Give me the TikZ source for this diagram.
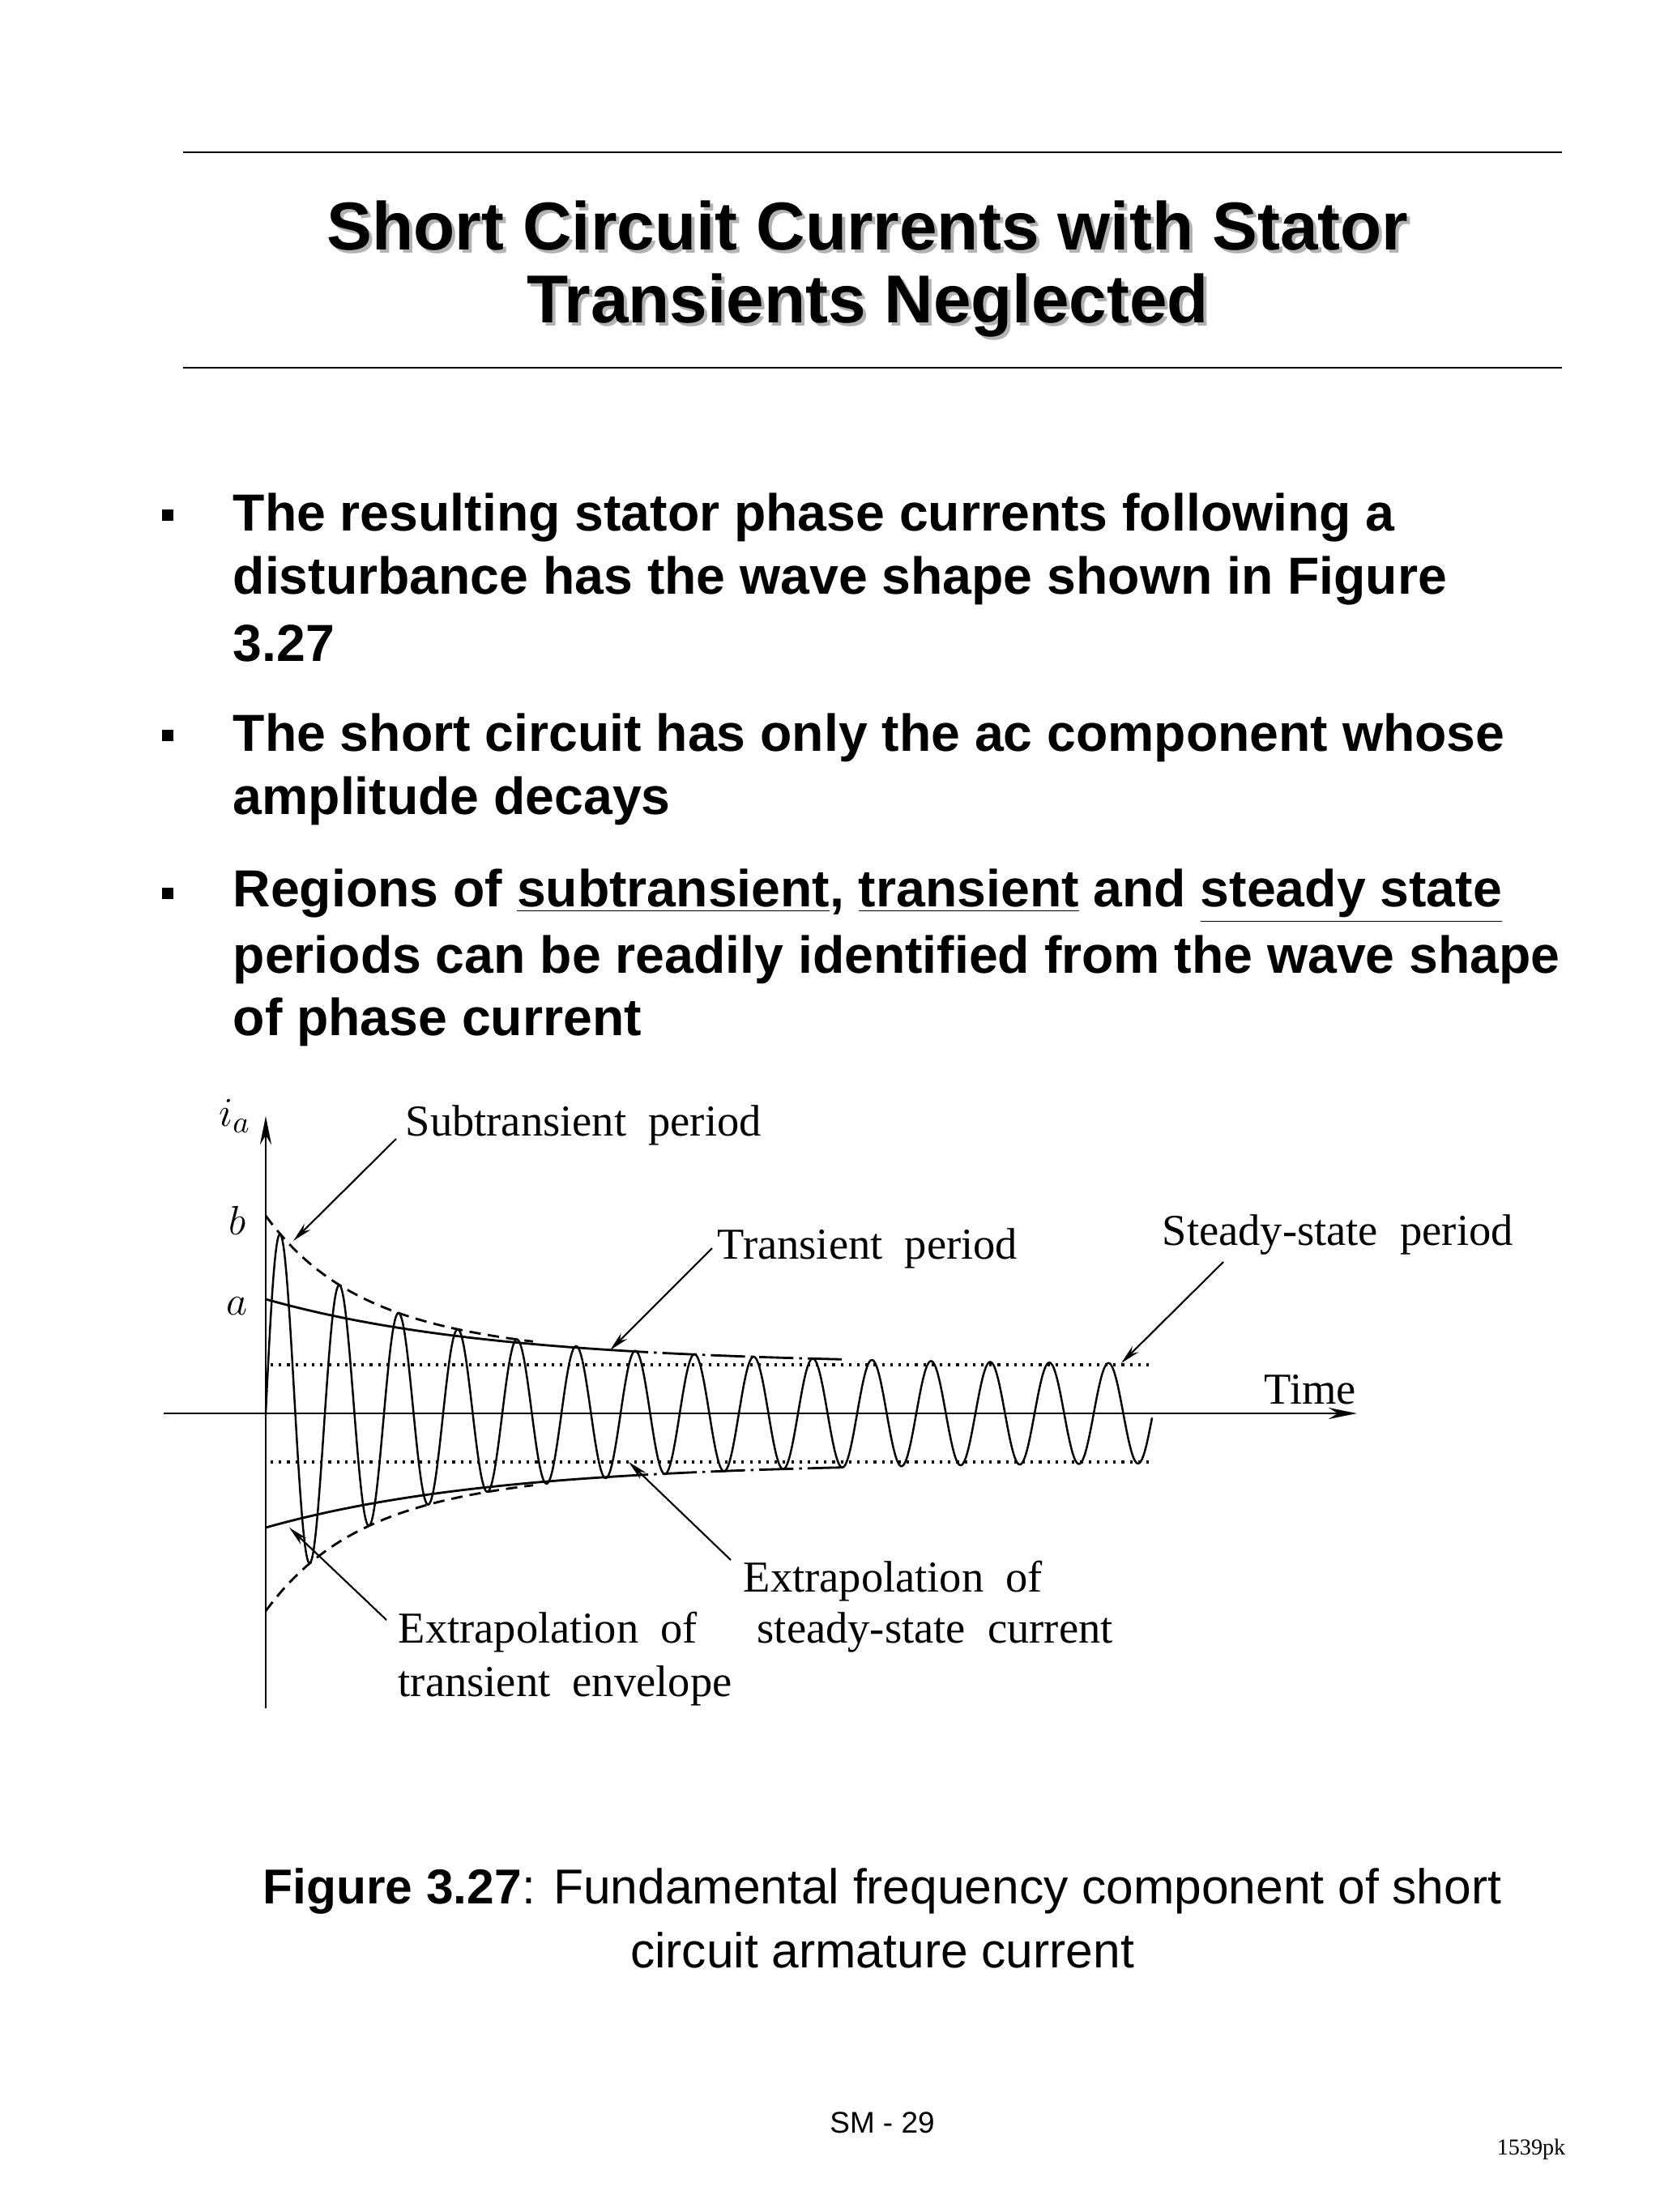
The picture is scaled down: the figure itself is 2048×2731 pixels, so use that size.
\documentclass[tikz,border=0pt]{standalone}
\usepackage{fontspec}
\setmainfont{Liberation Sans}
\newfontfamily\ser{Liberation Serif}
\usetikzlibrary{arrows.meta}
\begin{document}
\begin{tikzpicture}[x=0.01cm,y=-0.01cm,
  ttl/.style={font=\fontsize{23.8}{28}\selectfont\bfseries},
  btxt/.style={anchor=west,inner sep=0,font=\fontsize{18.3}{22}\selectfont\bfseries},
  lbl/.style={anchor=west,inner sep=0,font=\ser\fontsize{15.5}{18}\selectfont},
  lead/.style={line width=0.6pt,-{Stealth[length=7pt,width=3pt]}},
  crv/.style={line width=0.8pt}]
\useasboundingbox[fill=white] (0,0) rectangle (2048,2731);
% rules
\draw[line width=0.7pt] (226,188) -- (1928,188);
\draw[line width=0.7pt] (226,454) -- (1928,454);
% title with shadow
\node[ttl,text=gray!60] at (1075,283) {Short Circuit Currents with Stator};
\node[ttl,text=gray!60] at (1075,381) {Transients Neglected};
\node[ttl] (t1) at (1071,279) {Short Circuit Currents with Stator};
\node[ttl] (t2) at (1071,377) {Transients Neglected};
% bullets
\foreach \y in {639,911,1106} \fill (200,\y-10) rectangle +(14,14);
\node[btxt] (b1) at (287,639) {The resulting stator phase currents following a};
\node[btxt] (b2) at (287,717) {disturbance has the wave shape shown in Figure};
\node[btxt] (b3) at (287,794) {3.27};
\node[btxt] (b4) at (287,911) {The short circuit has only the ac component whose};
\node[btxt] (b5) at (287,989) {amplitude decays};
\node[btxt] (b6) at (287,1106) {Regions of \underline{subtransient}, \underline{transient} and \underline{steady state}};
\node[btxt] (b7) at (287,1185) {periods can be readily identified from the wave shape};
\node[btxt] (b8) at (287,1262) {of phase current};
% axes
\coordinate (yb) at (328,2109); \coordinate (yt) at (328,1378);
\coordinate (xl) at (202,1745); \coordinate (xr) at (1675,1745);
\draw[line width=0.8pt,-{Stealth[length=10pt,width=4pt]}] (yb) -- (yt);
\draw[line width=0.8pt,-{Stealth[length=10pt,width=4pt]}] (xl) -- (xr);
\node[inner sep=0,font=\fontsize{15.5}{18}\selectfont] (ia) at (290,1378) {$i_a$};
\node[inner sep=0,font=\fontsize{15.5}{18}\selectfont] (lb) at (293,1507) {$b$};
\node[inner sep=0,font=\fontsize{15.5}{18}\selectfont] (la) at (293,1613) {$a$};
% steady state dotted
\draw[dotted,line width=0.9pt] (334,1685) -- (1422,1685);
\draw[dotted,line width=0.9pt] (334,1805) -- (1422,1805);
% transient envelope
\draw[crv] plot[domain=0:430,samples=60,smooth] ({328+\x},{1745-(60+81*exp(-\x/286))});
\draw[crv,dash pattern=on 12pt off 2pt on 1pt off 2pt] plot[domain=430:717,samples=40,smooth] ({328+\x},{1745-(60+81*exp(-\x/286))});
\draw[crv] plot[domain=0:430,samples=60,smooth] ({328+\x},{1745+(60+81*exp(-\x/286))});
\draw[crv,dash pattern=on 12pt off 2pt on 1pt off 2pt] plot[domain=430:717,samples=40,smooth] ({328+\x},{1745+(60+81*exp(-\x/286))});
% subtransient envelope
\draw[crv,dash pattern=on 4pt off 2.5pt] plot[domain=0:330,samples=60,smooth] ({328+\x},{1745-(60+81*exp(-\x/286)+103*exp(-\x/95))});
\draw[crv,dash pattern=on 4pt off 2.5pt] plot[domain=0:330,samples=60,smooth] ({328+\x},{1745+(60+81*exp(-\x/286)+103*exp(-\x/95))});
% current wave
\draw[line width=0.7pt] plot[domain=0:1094,samples=900] ({328+\x},{1745-(60+81*exp(-\x/286)+103*exp(-\x/95))*sin(4.93151*\x)});
% labels
\node[lbl] (s1) at (500,1389) {Subtransient\ \ period};
\node[lbl] (s2) at (885,1541) {Transient\ \ period};
\node[lbl] (s3) at (1434,1524) {Steady-state\ \ period};
\node[lbl] (tm) at (1560,1716) {Time};
\node[lbl] (e1) at (917,1952) {Extrapolation\ \ of};
\node[lbl] (e2) at (934,2015) {steady-state\ \ current};
\node[lbl] (e3) at (491,2015) {Extrapolation\ \ of};
\node[lbl] (e4) at (491,2081) {transient\ \ envelope};
% leaders
\coordinate (c1a) at (489,1406); \coordinate (c1b) at (362,1532);
\coordinate (c2a) at (879,1541); \coordinate (c2b) at (753,1667);
\coordinate (c3a) at (1510,1558); \coordinate (c3b) at (1384,1683);
\coordinate (c4a) at (902,1926); \coordinate (c4b) at (776,1805);
\coordinate (c5a) at (477,2000); \coordinate (c5b) at (357,1886);
\draw[lead] (c1a) -- (c1b);
\draw[lead] (c2a) -- (c2b);
\draw[lead] (c3a) -- (c3b);
\draw[lead] (c4a) -- (c4b);
\draw[lead] (c5a) -- (c5b);
% caption
\node[font=\fontsize{17.2}{20}\selectfont] (cap1) at (1089,2335) {\textbf{Figure 3.27}: Fundamental frequency component of short};
\node[font=\fontsize{17.2}{20}\selectfont] (cap2) at (1089,2408) {circuit armature current};
\node[font=\fontsize{10.5}{12}\selectfont] (sm) at (1089,2621) {SM - 29};
\node[font=\ser\fontsize{8}{10}\selectfont] (pk) at (1890,2654) {1539pk};
\end{tikzpicture}
\end{document}
